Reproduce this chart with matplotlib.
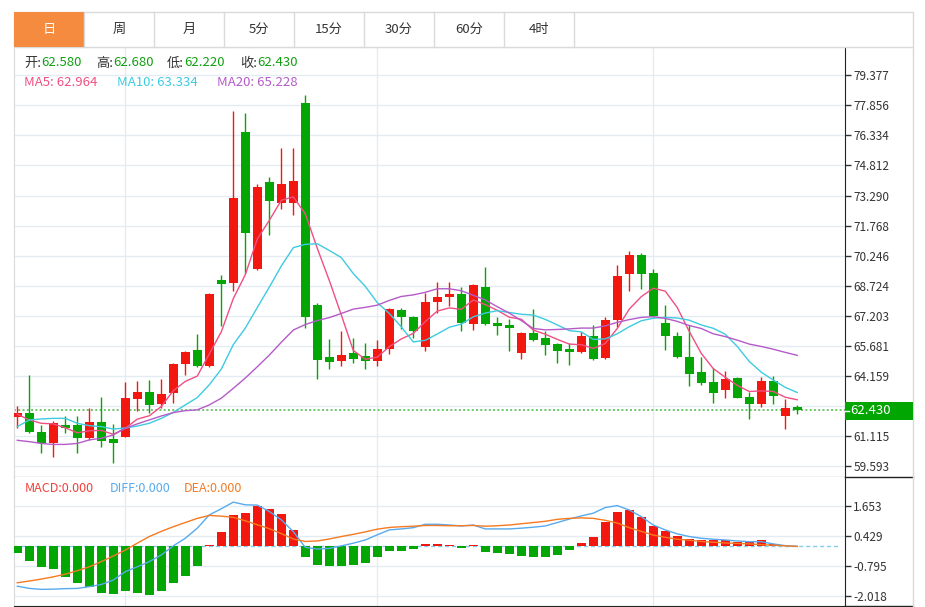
import matplotlib
matplotlib.use("Agg")
import matplotlib.pyplot as plt
from matplotlib.patches import Rectangle
from matplotlib.lines import Line2D

plt.rcParams['font.family'] = ['Noto Sans CJK SC', 'DejaVu Sans']

# ---- data (daily candles, oldest first) ----
opens = [62.10, 62.27, 61.34, 60.78, 61.68, 61.68, 61.00, 61.81, 60.95, 61.08,
         62.98, 63.33, 62.72, 63.28, 64.75, 65.46, 64.66, 69.02, 68.85, 76.52,
         69.57, 73.96, 72.90, 72.90, 77.99, 67.75, 65.13, 64.93, 65.30, 65.17,
         64.91, 65.52, 67.50, 67.16, 65.64, 67.89, 68.14, 68.29, 66.79, 68.68,
         66.86, 66.72, 65.31, 66.32, 66.07, 65.78, 65.51, 65.36, 66.18, 65.08,
         66.99, 69.30, 70.28, 69.36, 66.82, 66.20, 65.13, 64.34, 63.84, 63.45,
         64.07, 63.08, 62.74, 63.90, 62.15, 62.58]
highs = [62.64, 64.21, 61.68, 61.89, 62.13, 62.13, 62.52, 63.08, 61.73, 63.87,
         63.90, 63.95, 63.99, 64.80, 65.42, 66.28, 68.37, 69.27, 77.59, 77.46,
         73.88, 74.25, 75.72, 75.72, 78.38, 67.84, 66.03, 66.43, 66.10, 65.81,
         65.98, 67.58, 67.61, 67.19, 68.34, 68.90, 68.93, 68.65, 68.80, 69.66,
         67.16, 67.03, 66.40, 67.55, 66.43, 65.84, 65.81, 66.40, 66.74, 67.16,
         69.78, 70.50, 70.40, 69.56, 67.75, 66.40, 66.74, 65.10, 64.55, 64.42,
         64.12, 63.36, 64.12, 64.15, 62.99, 62.68]
lows = [61.51, 61.26, 60.27, 60.04, 61.25, 60.27, 60.92, 60.58, 59.77, 61.05,
        62.40, 62.27, 62.52, 62.80, 64.21, 64.60, 64.60, 66.69, 68.47, 69.36,
        69.52, 71.30, 72.61, 72.31, 66.57, 64.00, 64.51, 64.66, 64.80, 64.51,
        64.68, 65.26, 66.53, 66.06, 65.44, 67.33, 67.70, 66.45, 66.48, 66.74,
        66.23, 65.44, 65.03, 65.94, 65.22, 64.83, 64.71, 65.34, 64.97, 65.03,
        66.62, 68.46, 68.56, 67.16, 65.47, 65.05, 63.67, 63.70, 62.77, 63.03,
        63.03, 61.96, 62.60, 62.72, 61.47, 62.22]
closes = [62.27, 61.31, 60.78, 61.76, 61.51, 61.03, 61.84, 60.88, 60.75, 63.03,
          63.33, 62.69, 63.25, 64.76, 65.37, 64.68, 68.31, 68.81, 73.18, 71.41,
          73.74, 73.03, 73.88, 74.04, 67.16, 64.97, 64.88, 65.22, 65.02, 64.93,
          65.52, 67.53, 67.13, 66.45, 67.92, 68.17, 68.31, 66.82, 68.76, 66.79,
          66.70, 66.60, 66.32, 65.98, 65.73, 65.41, 65.39, 66.18, 65.02, 66.99,
          69.24, 70.28, 69.32, 67.19, 66.20, 65.10, 64.24, 63.79, 63.31, 63.99,
          63.06, 62.72, 63.92, 63.14, 62.55, 62.43]

ma5 = [62.22, 61.93, 61.76, 61.73, 61.53, 61.28, 61.38, 61.40, 61.20, 61.51,
       61.97, 62.14, 62.61, 63.41, 63.88, 64.15, 65.27, 66.39, 68.07, 69.28,
       71.09, 72.03, 73.05, 73.22, 72.37, 70.62, 68.99, 67.25, 65.45, 65.00,
       65.11, 65.64, 66.03, 66.31, 66.91, 67.44, 67.60, 67.53, 68.00, 67.77,
       67.48, 67.13, 67.03, 66.48, 66.27, 66.01, 65.77, 65.74, 65.55, 65.80,
       66.56, 67.54, 68.17, 68.60, 68.45, 67.62, 66.41, 65.30, 64.53, 64.09,
       63.68, 63.37, 63.40, 63.37, 63.08, 62.95]
ma10 = [61.59, 61.93, 61.98, 62.01, 62.01, 61.76, 61.64, 61.59, 61.47, 61.52,
        61.62, 61.76, 62.01, 62.31, 62.69, 63.06, 63.71, 64.50, 65.74, 66.58,
        67.62, 68.65, 69.72, 70.65, 70.82, 70.85, 70.51, 70.15, 69.34, 68.69,
        67.87, 67.32, 66.64, 65.88, 65.96, 66.28, 66.62, 66.78, 67.15, 67.34,
        67.46, 67.37, 67.28, 67.24, 67.02, 66.74, 66.45, 66.39, 66.01, 66.03,
        66.29, 66.65, 66.95, 67.08, 67.12, 67.09, 66.98, 66.74, 66.57, 66.27,
        65.65, 64.89, 64.35, 63.95, 63.58, 63.32]
ma20 = [60.90, 60.83, 60.74, 60.69, 60.69, 60.74, 60.92, 61.00, 61.17, 61.51,
        61.73, 61.93, 62.13, 62.30, 62.40, 62.44, 62.69, 63.03, 63.53, 64.05,
        64.62, 65.21, 65.86, 66.48, 66.76, 66.96, 67.11, 67.32, 67.54, 67.63,
        67.74, 67.98, 68.18, 68.26, 68.39, 68.57, 68.57, 68.47, 68.24, 68.01,
        67.66, 67.34, 66.96, 66.56, 66.49, 66.51, 66.54, 66.58, 66.58, 66.69,
        66.87, 67.01, 67.12, 67.16, 67.07, 66.92, 66.71, 66.56, 66.29, 66.15,
        65.97, 65.77, 65.65, 65.51, 65.35, 65.20]

macd_hist = [-0.28, -0.58, -0.83, -0.94, -1.23, -1.47, -1.64, -1.89, -1.94, -1.80,
             -1.91, -1.98, -1.80, -1.48, -1.19, -0.79, 0.06, 0.60, 1.28, 1.35,
             1.66, 1.53, 1.32, 0.67, -0.42, -0.76, -0.80, -0.79, -0.77, -0.66,
             -0.45, -0.19, -0.19, -0.12, 0.10, 0.10, 0.04, -0.05, 0.04, -0.22,
             -0.26, -0.32, -0.39, -0.42, -0.42, -0.34, -0.16, 0.14, 0.40, 0.98,
             1.39, 1.46, 1.19, 0.83, 0.61, 0.44, 0.30, 0.27, 0.25, 0.25,
             0.17, 0.16, 0.26, 0.09, 0.01, 0.00]
diff = [-1.62, -1.71, -1.75, -1.74, -1.72, -1.71, -1.64, -1.55, -1.37, -1.03,
        -0.83, -0.62, -0.35, 0.02, 0.33, 0.74, 1.28, 1.53, 1.80, 1.69,
        1.68, 1.42, 1.08, 0.60, -0.04, -0.11, -0.08, 0.02, 0.13, 0.26,
        0.47, 0.67, 0.71, 0.76, 0.90, 0.90, 0.87, 0.83, 0.87, 0.71,
        0.71, 0.71, 0.74, 0.78, 0.83, 0.97, 1.11, 1.24, 1.35, 1.58,
        1.66, 1.48, 1.21, 0.87, 0.67, 0.51, 0.40, 0.33, 0.29, 0.26,
        0.22, 0.19, 0.19, 0.10, 0.03, 0.00]
dea = [-1.48, -1.41, -1.33, -1.24, -1.13, -0.99, -0.83, -0.62, -0.39, -0.15,
       0.13, 0.40, 0.61, 0.80, 0.97, 1.14, 1.26, 1.23, 1.18, 1.04,
       0.88, 0.72, 0.52, 0.30, 0.20, 0.22, 0.30, 0.40, 0.49, 0.59,
       0.70, 0.77, 0.80, 0.82, 0.85, 0.85, 0.84, 0.84, 0.85, 0.82,
       0.84, 0.87, 0.92, 0.97, 1.02, 1.10, 1.14, 1.16, 1.14, 1.06,
       0.95, 0.76, 0.61, 0.46, 0.37, 0.29, 0.25, 0.20, 0.17, 0.14,
       0.12, 0.10, 0.07, 0.05, 0.02, 0.00]

price_ticks = [59.593, 61.115, 62.637, 64.159, 65.681, 67.203, 68.724,
               70.246, 71.768, 73.290, 74.812, 76.334, 77.856, 79.377]
macd_ticks = [-2.018, -0.795, 0.429, 1.653]
month_marks = [9, 30, 53]   # candles where the vertical grid lines sit

tabs = ["日", "周", "月", "5分", "15分", "30分", "60分", "4时"]
last_price = 62.430
ohlc_labels = [("开", 62.580), ("高", 62.680), ("低", 62.220), ("收", 62.430)]
ma_labels = [("MA5", 62.964), ("MA10", 63.334), ("MA20", 65.228)]
macd_labels = [("MACD", 0.0), ("DIFF", 0.0), ("DEA", 0.0)]

# ---- styling ----
RED = '#f2170f'
GREEN = '#03a603'
GRID = '#e4ecf3'
BORDER = '#dadada'
C_MA = ['#f04f82', '#3ecbe0', '#b55bc9']
C_MACD = ['#f0413b', '#58aaee', '#f57a22']
W, H = 925, 607


def fx(x):
    return x / W


def fy(y):
    return 1 - y / H


fig = plt.figure(figsize=(W / 100, H / 100), dpi=100)
ax = fig.add_axes([fx(14), fy(476.7), fx(845) - fx(14), fy(47) - fy(476.7)])
ax2 = fig.add_axes([fx(14), fy(606), fx(845) - fx(14), fy(476.7) - fy(606)])

xs = list(range(len(closes)))

# candles
for i in xs:
    o, h, l, c = opens[i], highs[i], lows[i], closes[i]
    col = RED if c >= o else GREEN
    ax.vlines(i, l, h, color=col, lw=1, zorder=3)
    ax.bar(i, max(abs(c - o), 0.04), bottom=min(o, c), width=0.72,
           color=col, linewidth=0, zorder=3)

for vals, col in zip([ma5, ma10, ma20], C_MA):
    ax.plot(xs, vals, color=col, lw=1, zorder=4)

ax.axhline(last_price, color='#6cc56c', lw=1.4, ls=(0, (1, 1.2)), zorder=2)

ax.set_xlim(-0.275, 68.98)
ax.set_ylim(59.056, 80.81)
ax.set_yticks(price_ticks)
ax.set_yticklabels([f"{t:.3f}" for t in price_ticks])
ax.set_xticks(month_marks)
ax.set_xticklabels([])

# MACD panel
hist_cols = [RED if v >= 0 else GREEN for v in macd_hist]
ax2.bar(xs, macd_hist, width=0.72, color=hist_cols, linewidth=0, zorder=3)
ax2.plot(xs, diff, color=C_MACD[1], lw=1, zorder=4)
ax2.plot(xs, dea, color=C_MACD[2], lw=1, zorder=4)
ax2.axhline(0, xmax=0.994, color='#86cdea', lw=1, ls=(0, (3, 2)), zorder=2)
ax2.set_xlim(-0.275, 68.98)
ax2.set_ylim(-2.426, 2.835)
ax2.set_yticks(macd_ticks)
ax2.set_yticklabels([f"{t:.3f}" for t in macd_ticks])
ax2.set_xticks(month_marks)
ax2.set_xticklabels([])

for a in (ax, ax2):
    a.yaxis.tick_right()
    a.tick_params(axis='y', length=4, width=1, color='#333333', pad=2,
                  labelsize=8.5, labelcolor='#333333')
    a.tick_params(axis='x', length=0)
    a.grid(True, color=GRID, lw=1, zorder=0)
    a.set_axisbelow(True)
    a.spines['left'].set_color(BORDER)
    a.spines['right'].set_color('#222222')
    a.spines['bottom'].set_color('#222222')
    a.spines['top'].set_color(BORDER)
    a.set_facecolor('white')
ax2.spines['top'].set_visible(False)

# frame lines to the right of the price axis
fig.add_artist(Line2D([fx(845), fx(913)], [fy(476.7), fy(476.7)], color='#222222', lw=1))
fig.add_artist(Line2D([fx(845), fx(913)], [fy(606), fy(606)], color='#222222', lw=1))
fig.add_artist(Line2D([fx(913), fx(913)], [fy(47), fy(606)], color=BORDER, lw=1))

# last price tag (covers the 62.637 tick label, as on the original)
fig.add_artist(Rectangle((fx(845), fy(419.5)), fx(913) - fx(845), fy(402) - fy(419.5),
                         facecolor='#02a602', edgecolor='none', zorder=5))
fig.add_artist(Line2D([fx(845), fx(849)], [fy(411), fy(411)], color='white', lw=1, zorder=6))
fig.text(fx(850.5), fy(411), f"{last_price:.3f}", color='white', fontsize=9.5,
         va='center', ha='left', zorder=6)

# tab bar
fig.add_artist(Rectangle((fx(14), fy(47)), fx(913) - fx(14), fy(12) - fy(47),
                         facecolor='white', edgecolor=BORDER, lw=1))
for k, name in enumerate(tabs):
    x0 = 14 + 70 * k
    if k == 0:
        fig.add_artist(Rectangle((fx(x0), fy(47)), fx(70), fy(12) - fy(47),
                                 facecolor='#f48b3f', edgecolor='none', zorder=2))
    fig.add_artist(Line2D([fx(x0 + 70), fx(x0 + 70)], [fy(12), fy(47)], color=BORDER, lw=1))
    fig.text(fx(x0 + 35), fy(29.5), name, ha='center', va='center', fontsize=9.5,
             color='white' if k == 0 else '#333333', zorder=3)

# header values
for (name, val), x0 in zip(ohlc_labels, [24, 96, 167, 240]):
    t = fig.text(fx(x0), fy(63), f"{name}:", fontsize=9.5, color='#333333', va='center')
    ax.annotate(f"{val:.3f}", xy=(1, 0.5), xycoords=t, va='center', ha='left',
                fontsize=9.5, color='#11a011', annotation_clip=False)
for (name, val), x0, col in zip(ma_labels, [24, 117, 217], C_MA):
    fig.text(fx(x0), fy(82), f"{name}: {val:.3f}", fontsize=9.5, color=col, va='center')
for (name, val), x0, col in zip(macd_labels, [25, 110, 184], C_MACD):
    fig.text(fx(x0), fy(488), f"{name}:{val:.3f}", fontsize=9, color=col, va='center')

fig.savefig('out.png', dpi=100)
